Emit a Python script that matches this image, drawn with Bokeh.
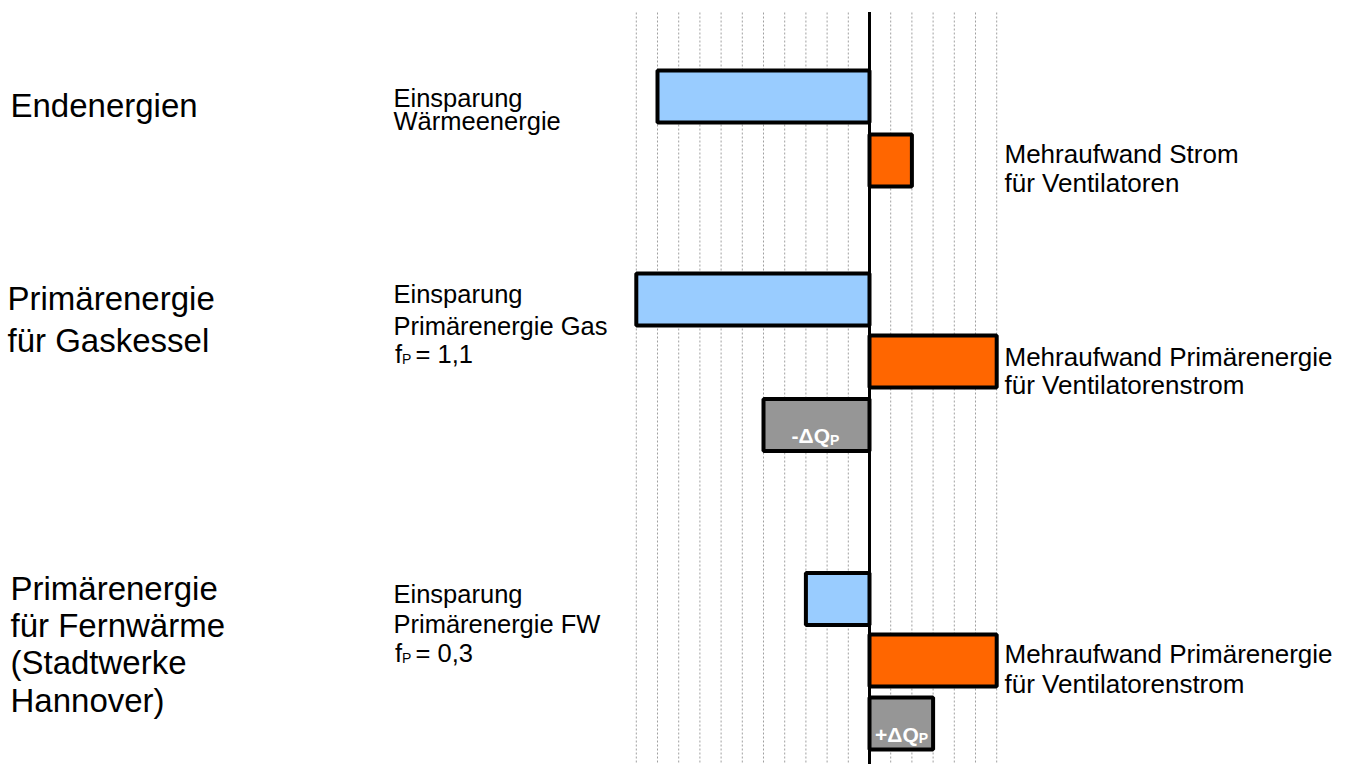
from bokeh.plotting import figure
from bokeh.models import Range1d, ColumnDataSource
from bokeh.core.properties import value
from bokeh.embed import file_html
from bokeh.resources import INLINE

# ---------------- data ----------------
bar_names = ["Einsparung Wärmeenergie", "Mehraufwand Strom",
             "Einsparung Primärenergie Gas", "Mehraufwand Primärenergie (Gas)",
             "-ΔQP", "Einsparung Primärenergie FW",
             "Mehraufwand Primärenergie (FW)", "+ΔQP"]
bar_values = [-10.0, 2.0, -11.0, 6.0, -5.0, -3.0, 6.0, 3.0]
bar_kind = ["saving", "extra", "saving", "extra", "delta", "saving", "extra", "delta"]
grid_ticks = [-11, -10, -9, -8, -7, -6, -5, -4, -3, -2, -1, 1, 2, 3, 4, 5, 6]

group_labels = [["Endenergien"],
                ["Primärenergie", "für Gaskessel"],
                ["Primärenergie", "für Fernwärme", "(Stadtwerke", "Hannover)"]]
saving_labels = [["Einsparung", "Wärmeenergie"],
                 ["Einsparung", "Primärenergie Gas"],
                 ["Einsparung", "Primärenergie FW"]]
fp_values = ["= 1,1", "= 0,3"]
extra_labels = [["Mehraufwand Strom", "für Ventilatoren"],
                ["Mehraufwand Primärenergie", "für Ventilatorenstrom"],
                ["Mehraufwand Primärenergie", "für Ventilatorenstrom"]]
delta_labels = ["-ΔQ", "+ΔQ"]

# ---------------- layout ----------------
W, H = 1350, 764
PX = 21.2          # pixels per unit
X0 = 869           # pixel of zero
def fx(xpix):      # pixel x -> data x
    return (xpix - X0) / PX

row_y = [96, 160, 299, 361, 424.5, 598.5, 660, 723]   # bar centres (px)
bar_h = 52
colors = {"saving": "#99CCFF", "extra": "#FF6600", "delta": "#969696"}

p = figure(width=W, height=H, output_backend="svg", toolbar_location=None,
           x_range=Range1d(fx(0), fx(W)), y_range=Range1d(H, 0),
           x_axis_location=None, y_axis_location=None,
           min_border=0, min_border_left=0, min_border_right=0,
           min_border_top=0, min_border_bottom=0,
           background_fill_color="white", border_fill_color="white")
p.outline_line_color = None
p.xgrid.visible = False
p.ygrid.visible = False

# dotted vertical grid
p.segment(x0=grid_ticks, x1=grid_ticks, y0=[12] * len(grid_ticks), y1=[780] * len(grid_ticks),
          line_color="#a0a0a0", line_width=1, line_dash="2 2")

# bars
left = [min(0, v) for v in bar_values]
right = [max(0, v) for v in bar_values]
src = ColumnDataSource(dict(left=left, right=right, y=row_y,
                            color=[colors[k] for k in bar_kind], name=bar_names))
p.hbar(y="y", left="left", right="right", height=bar_h, fill_color="color",
       line_color="black", line_width=4, source=src)

# zero axis
p.segment(x0=[0], x1=[0], y0=[11.5], y1=[780], line_color="black", line_width=3)

FONT = value("Liberation Sans")

def put(texts, xs, ys, size, color="black", bold=False, align="left"):
    p.text(x=xs, y=ys, text=texts, text_font=FONT, text_font_size=size,
           text_color=color, text_align=align, text_baseline="alphabetic",
           text_font_style="bold" if bold else "normal")

# left group labels
gx = [10, 7, 10]
gy = [[105], [298, 340], [588, 625, 662, 700]]
tx, ty, tt = [], [], []
for lines, x, ys in zip(group_labels, gx, gy):
    for s, y in zip(lines, ys):
        tx.append(fx(x)); ty.append(y); tt.append(s)
put(tt, tx, ty, "33px")

# saving labels
sy = [[97, 120], [293, 325], [593, 623]]
tx, ty, tt = [], [], []
for lines, ys in zip(saving_labels, sy):
    for s, y in zip(lines, ys):
        tx.append(fx(393)); ty.append(y); tt.append(s)
put(tt, tx, ty, "25.5px")
fpy = [353, 652]
put(["f"] * 2, [fx(394.5)] * 2, fpy, "25.5px")
put(["P"] * 2, [fx(401.5)] * 2, [y + 5 for y in fpy], "14px")
put(fp_values, [fx(415)] * 2, fpy, "25.5px")

# extra labels
ey = [[153, 182], [356, 384], [653, 683]]
tx, ty, tt = [], [], []
for lines, ys in zip(extra_labels, ey):
    for s, y in zip(lines, ys):
        tx.append(fx(1004)); ty.append(y); tt.append(s)
put(tt, tx, ty, "26px")

# delta labels inside grey bars
dvals = [v for v, k in zip(bar_values, bar_kind) if k == "delta"]
dys = [y for y, k in zip(row_y, bar_kind) if k == "delta"]
dx = [v / 2 for v in dvals]
offs = [13.5, 17.5]
p.text(x=dx, y=[y + 10.5 for y in dys], text=delta_labels, x_offset=offs,
       text_font=FONT, text_font_size="21px", text_font_style="bold",
       text_color="white", text_align="right", text_baseline="alphabetic")
p.text(x=dx, y=[y + 14.5 for y in dys], text=["P", "P"], x_offset=offs,
       text_font=FONT, text_font_size="14px", text_font_style="bold",
       text_color="white", text_align="left", text_baseline="alphabetic")

open("out.html", "w").write(file_html(p, INLINE))
